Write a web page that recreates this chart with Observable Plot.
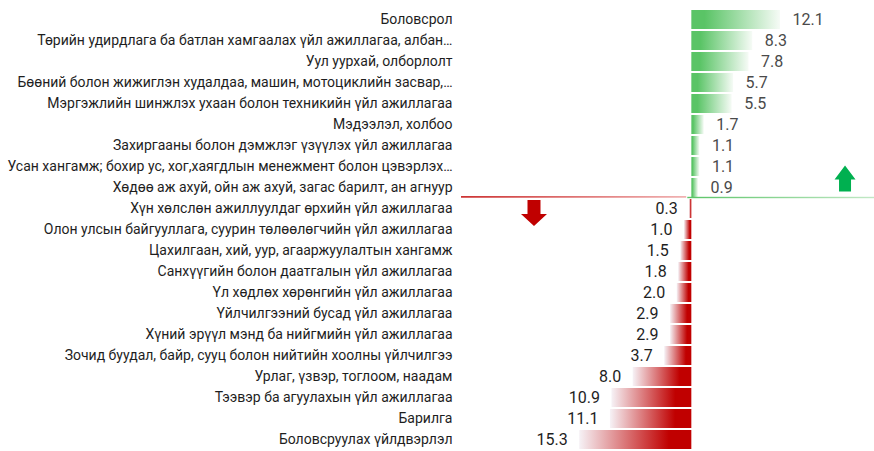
<!DOCTYPE html>
<html>
<head>
<meta charset="utf-8">
<script src="https://cdn.jsdelivr.net/npm/d3@7"></script>
<script src="https://cdn.jsdelivr.net/npm/@observablehq/plot@0.6"></script>
<style>
  html, body { margin: 0; padding: 0; background: #fff; }
  #chart svg { display: block; }
</style>
</head>
<body>
<div id="chart"></div>
<script>
// Growing sectors (green, to the right)
const upCategories = [
  "Боловсрол",
  "Төрийн удирдлага ба батлан хамгаалах үйл ажиллагаа, албан…",
  "Уул уурхай, олборлолт",
  "Бөөний болон жижиглэн худалдаа, машин, мотоциклийн засвар,…",
  "Мэргэжлийн шинжлэх ухаан болон техникийн үйл ажиллагаа",
  "Мэдээлэл, холбоо",
  "Захиргааны болон дэмжлэг үзүүлэх үйл ажиллагаа",
  "Усан хангамж; бохир ус, хог,хаягдлын менежмент болон цэвэрлэх…",
  "Хөдөө аж ахуй, ойн аж ахуй, загас барилт, ан агнуур"
];
const upValues = [12.1, 8.3, 7.8, 5.7, 5.5, 1.7, 1.1, 1.1, 0.9];

// Declining sectors (red, to the left)
const downCategories = [
  "Хүн хөлслөн ажиллуулдаг өрхийн үйл ажиллагаа",
  "Олон улсын байгууллага, суурин төлөөлөгчийн үйл ажиллагаа",
  "Цахилгаан, хий, уур, агааржуулалтын хангамж",
  "Санхүүгийн болон даатгалын үйл ажиллагаа",
  "Үл хөдлөх хөрөнгийн үйл ажиллагаа",
  "Үйлчилгээний бусад үйл ажиллагаа",
  "Хүний эрүүл мэнд ба нийгмийн үйл ажиллагаа",
  "Зочид буудал, байр, сууц болон нийтийн хоолны үйлчилгээ",
  "Урлаг, үзвэр, тоглоом, наадам",
  "Тээвэр ба агуулахын үйл ажиллагаа",
  "Барилга",
  "Боловсруулах үйлдвэрлэл"
];
const downValues = [0.3, 1.0, 1.5, 1.8, 2.0, 2.9, 2.9, 3.7, 8.0, 10.9, 11.1, 15.3];

const up = upCategories.map((c, i) => ({cat: c, v: upValues[i]}));
const down = downCategories.map((c, i) => ({cat: c, v: -downValues[i]}));
const allCats = [...upCategories, ...downCategories];

const xMin = -31.42, xMax = 24.92;
const lastUp = upCategories[upCategories.length - 1];
const firstDown = downCategories[0];

const defs = () => {
  const d = d3.create("svg:defs");
  const g = d.append("linearGradient").attr("id", "gGreen").attr("x1", 0).attr("x2", 1).attr("y1", 0).attr("y2", 0);
  g.append("stop").attr("offset", 0).attr("stop-color", "#5ac466");
  g.append("stop").attr("offset", 0.15).attr("stop-color", "#5ac466");
  g.append("stop").attr("offset", 1).attr("stop-color", "#f6fbf6");
  const r = d.append("linearGradient").attr("id", "gRed").attr("x1", 0).attr("x2", 1).attr("y1", 0).attr("y2", 0);
  r.append("stop").attr("offset", 0).attr("stop-color", "#f6f2f6");
  r.append("stop").attr("offset", 0.8).attr("stop-color", "#c00000");
  r.append("stop").attr("offset", 1).attr("stop-color", "#c00000");
  const lr = d.append("linearGradient").attr("id", "lRed").attr("x1", 0).attr("x2", 1).attr("y1", 0).attr("y2", 0);
  lr.append("stop").attr("offset", 0).attr("stop-color", "#c00000");
  lr.append("stop").attr("offset", 1).attr("stop-color", "#eda0a0");
  const lg = d.append("linearGradient").attr("id", "lGreen").attr("x1", 0).attr("x2", 1).attr("y1", 0).attr("y2", 0);
  lg.append("stop").attr("offset", 0).attr("stop-color", "#5ac466");
  lg.append("stop").attr("offset", 1).attr("stop-color", "#c2e8c6");
  return d.node();
};

const upArrow = {
  draw(ctx, l) {
    ctx.moveTo(-6, 0); ctx.lineTo(-6, -12); ctx.lineTo(-10.5, -12);
    ctx.lineTo(0, -26); ctx.lineTo(10.5, -12); ctx.lineTo(6, -12);
    ctx.lineTo(6, 0); ctx.closePath();
  }
};
const downArrow = {
  draw(ctx, l) {
    ctx.moveTo(-6.5, 0); ctx.lineTo(-6.5, -14); ctx.lineTo(-13, -14);
    ctx.lineTo(0, -26); ctx.lineTo(13, -14); ctx.lineTo(6.5, -14);
    ctx.lineTo(6.5, 0); ctx.closePath();
  }
};

const chart = Plot.plot({
  width: 874,
  height: 451,
  marginLeft: 461,
  marginRight: 0,
  marginTop: 7,
  marginBottom: 0,
  style: {fontFamily: "Roboto, 'Noto Sans', sans-serif", background: "#fff"},
  x: {domain: [xMin, xMax], axis: null},
  y: {domain: allCats, paddingInner: 0.1, paddingOuter: 0, axis: null},
  marks: [
    defs,
    Plot.barX(up, {x: "v", y: "cat", fill: "url(#gGreen)"}),
    Plot.barX(down, {x: "v", y: "cat", fill: "url(#gRed)"}),
    Plot.barX([{cat: lastUp}], {x1: xMin, x2: -0.7, y: "cat", insetTop: 17.6, dy: 0.6, fill: "url(#lRed)"}),
    Plot.barX([{cat: lastUp}], {x1: -0.55, x2: xMax, y: "cat", insetTop: 17.6, dy: 1.2, fill: "url(#lGreen)"}),
    Plot.vector([{cat: lastUp, x: 20.9}], {x: "x", y: "cat", length: 26, anchor: "start", dy: 3.4, shape: upArrow, fill: "#00b050", stroke: "none"}),
    Plot.vector([{cat: firstDown, x: -21.53}], {x: "x", y: "cat", length: 26, anchor: "start", rotate: 180, dy: -8.9, shape: downArrow, fill: "#c00000", stroke: "none"}),
    Plot.text(up, {x: "v", y: "cat", text: d => d.v.toFixed(1), textAnchor: "start", dx: 12, fontSize: 16, fill: "#4a4a4a"}),
    Plot.text(down, {x: "v", y: "cat", text: d => (-d.v).toFixed(1), textAnchor: "end", dx: -12, fontSize: 16, fill: "#1e1e1e"}),
    Plot.axisY({tickSize: 0, tickPadding: 9, fontSize: 14, label: null, color: "#1e1e1e"})
  ]
});
document.getElementById("chart").append(chart);
</script>
</body>
</html>
